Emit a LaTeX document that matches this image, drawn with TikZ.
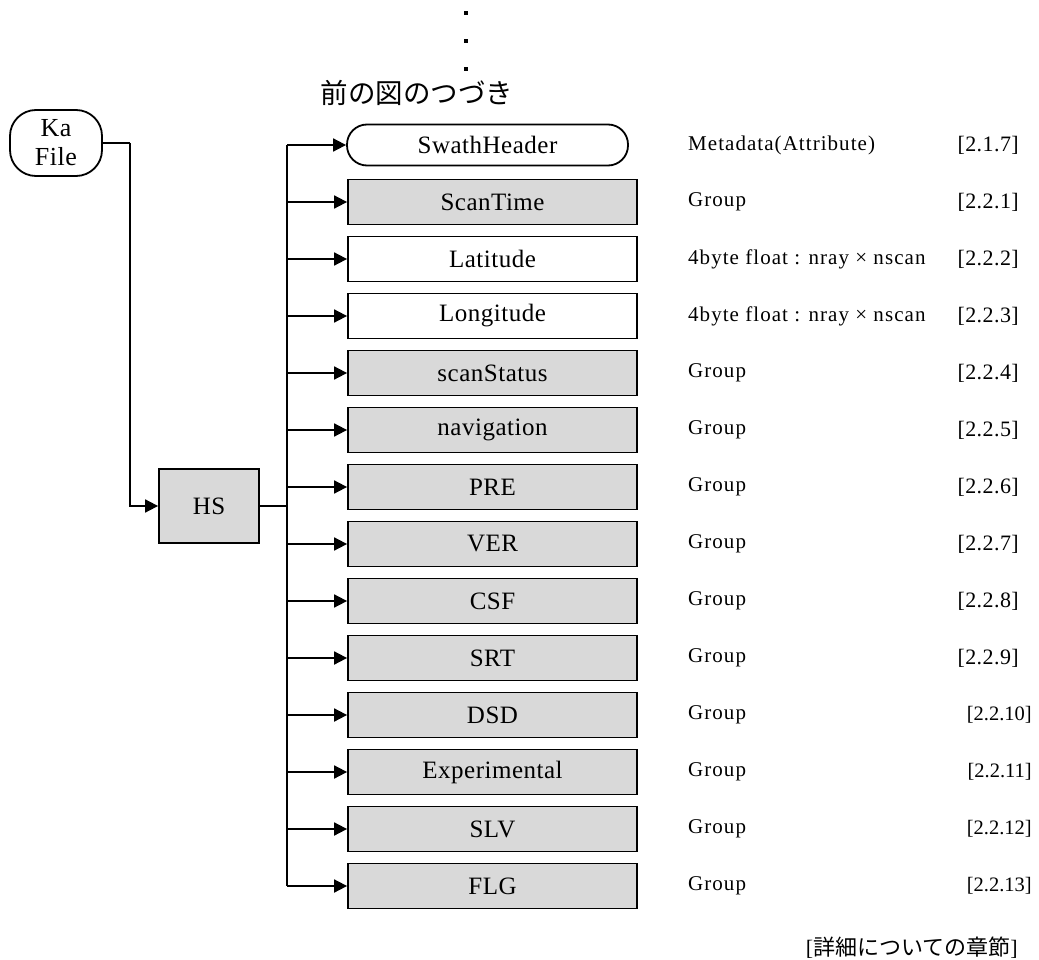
\documentclass[tikz,border=0pt]{standalone}
\usepackage{fontspec}
\setmainfont{Liberation Serif}
\newfontfamily\cjk{Noto Sans CJK JP}
\newfontfamily\lblfont[LetterSpace=2]{Liberation Serif}
\newfontfamily\typfont[LetterSpace=5]{Liberation Serif}
\newfontfamily\secfont[LetterSpace=2]{Liberation Serif}
\usetikzlibrary{arrows.meta}
\definecolor{boxgray}{HTML}{D9D9D9}
\begin{document}
\begin{tikzpicture}[x=1pt,y=-1pt,
  box/.style={draw, line width=1.8pt, minimum width=289pt, minimum height=45pt, inner sep=0pt, font=\lblfont\fontsize{25}{27}\selectfont},
  gbox/.style={box, fill=boxgray},
  wbox/.style={box, fill=white},
  arr/.style={-{Triangle[length=13pt,width=13pt]}, line width=1.8pt},
  ln/.style={line width=1.8pt},
  typ/.style={anchor=west, inner sep=0pt, font=\typfont\fontsize{21}{23}\selectfont},
  sec/.style={anchor=east, inner sep=0pt, font=\secfont\fontsize{22}{24}\selectfont},
  secb/.style={anchor=east, inner sep=0pt, font=\fontsize{20.5}{22}\selectfont},
  dot/.style={fill=black, minimum size=3.5pt, inner sep=0pt}]
\useasboundingbox (0,0) rectangle (1039,960);
% dots
\node[dot] (d1) at (466,13) {};
\node[dot] (d2) at (466,41) {};
\node[dot] (d3) at (466,69) {};
\node[font=\cjk\fontsize{27.5}{29}\selectfont, inner sep=0pt] (cont) at (417,93) {前の図のつづき};
% Ka File
\node[draw, line width=1.8pt, rounded corners=26pt, minimum width=92pt, minimum height=66pt, inner sep=0pt, align=center, font=\lblfont\fontsize{26}{29}\selectfont] (ka) at (56,143) {Ka\\File};
% HS
\node[gbox, minimum width=100pt, minimum height=74pt] (hs) at (209,506) {HS};
\coordinate (kaT) at (130,143);
\draw[ln] (ka.east) -- (kaT);
\draw[arr] (kaT) |- (hs.west);
% SwathHeader
\node[draw, line width=1.8pt, rounded corners=20pt, minimum width=281pt, minimum height=41pt, inner sep=0pt, font=\lblfont\fontsize{25}{27}\selectfont] (sw) at (487.5,145) {SwathHeader};
\node[typ] (t0) at (688,145) {Metadata(Attribute)};
\node[sec] (s0) at (1019,145) {[2.1.7]};
% rows
\foreach \i/\nm/\st/\ty/\sc/\ss/\sx in {
  1/ScanTime/gbox/Group/2.2.1/sec/1019,
  2/Latitude/wbox/{4byte float : nray × nscan}/2.2.2/sec/1019,
  3/Longitude/wbox/{4byte float : nray × nscan}/2.2.3/sec/1019,
  4/scanStatus/gbox/Group/2.2.4/sec/1019,
  5/navigation/gbox/Group/2.2.5/sec/1019,
  6/PRE/gbox/Group/2.2.6/sec/1019,
  7/VER/gbox/Group/2.2.7/sec/1019,
  8/CSF/gbox/Group/2.2.8/sec/1019,
  9/SRT/gbox/Group/2.2.9/sec/1019,
  10/DSD/gbox/Group/2.2.10/secb/1032,
  11/Experimental/gbox/Group/2.2.11/secb/1032,
  12/SLV/gbox/Group/2.2.12/secb/1032,
  13/FLG/gbox/Group/2.2.13/secb/1032}{
  \pgfmathsetmacro{\yy}{145+57*\i}
  \node[\st] (r\i) at (492.5,\yy) {\nm};
  \node[typ] (t\i) at (688,\yy) {\ty};
  \node[\ss] (s\i) at (\sx,\yy) {[\sc]};
  \coordinate (j\i) at (287,\yy);
  \draw[arr] (j\i) -- (r\i.west);
}
\coordinate (j0) at (287,145);
\draw[arr] (j0) -- (sw.west);
\coordinate (jh) at (287,506);
\draw[line width=2.8pt] (hs.east) -- (jh);
\draw[line width=2.2pt] (j0) -- (j13);
\node[anchor=east, inner sep=0pt, font=\fontsize{22}{25}\selectfont] (note) at (1018,948) {[{\cjk 詳細についての章節}]};
\end{tikzpicture}
\end{document}
